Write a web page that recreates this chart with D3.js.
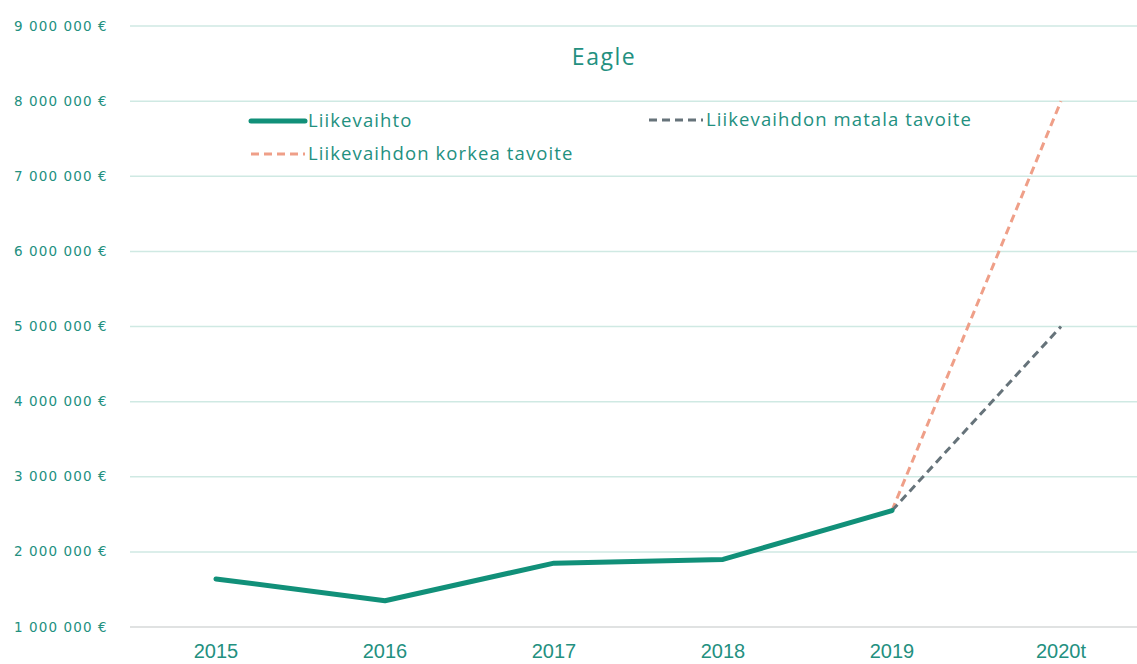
<!DOCTYPE html>
<html>
<head>
<meta charset="utf-8">
<script src="https://cdn.jsdelivr.net/npm/d3@7"></script>
<style>
  body { margin: 0; background: #fff; }
  svg { font-family: "Open Sans", "Noto Sans", sans-serif; }
</style>
</head>
<body>
<div id="chart"></div>
<script>
const YEARS = ["2015", "2016", "2017", "2018", "2019", "2020t"];
const REVENUE = [1640000, 1350000, 1850000, 1900000, 2550000];
const HIGH_TARGET = [["2019", 2550000], ["2020t", 8000000]];
const LOW_TARGET = [["2019", 2550000], ["2020t", 5000000]];
const Y_TICKS = [1000000, 2000000, 3000000, 4000000, 5000000, 6000000, 7000000, 8000000, 9000000];

const WIDTH = 1137;
const HEIGHT = 664;
const MARGINS = { left: 130, right: 0, top: 26, bottom: 37 };

const TEAL = "#119079";
const TEXT = "#23907f";

const svg = d3.select("#chart")
  .append("svg")
  .attr("width", WIDTH)
  .attr("height", HEIGHT);

const X_SCALE = d3.scalePoint()
  .domain(YEARS)
  .range([216, 1061]);

const Y_SCALE = d3.scaleLinear()
  .domain([1000000, 9000000])
  .range([HEIGHT - MARGINS.bottom, MARGINS.top]);

const fmt = (v) => d3.format(",")(v).replace(/,/g, " ") + " €";

// gridlines
svg.append("g")
  .selectAll("line")
  .data(Y_TICKS)
  .enter()
  .append("line")
  .attr("x1", MARGINS.left)
  .attr("x2", WIDTH)
  .attr("y1", (d) => Y_SCALE(d))
  .attr("y2", (d) => Y_SCALE(d))
  .attr("stroke", (d) => d === 1000000 ? "#d6d9d9" : "#cfe9e3")
  .attr("stroke-width", 1.5);

// y labels
svg.append("g")
  .selectAll("text")
  .data(Y_TICKS)
  .enter()
  .append("text")
  .attr("x", 14)
  .attr("y", (d) => Y_SCALE(d) + 4.5)
  .attr("font-family", "DejaVu Sans, sans-serif")
  .attr("font-size", "13.5px")
  .attr("letter-spacing", "1.1px")
  .attr("fill", TEXT)
  .text(fmt);

// x labels
svg.append("g")
  .selectAll("text")
  .data(YEARS)
  .enter()
  .append("text")
  .attr("x", (d) => X_SCALE(d))
  .attr("y", 658)
  .attr("text-anchor", "middle")
  .attr("font-family", "Liberation Sans, Arial, sans-serif")
  .attr("font-size", "20px")
  .attr("fill", TEXT)
  .text((d) => d);

// title
svg.append("text")
  .attr("x", 604)
  .attr("y", 65)
  .attr("text-anchor", "middle")
  .attr("font-size", "23px")
  .attr("letter-spacing", "1.5px")
  .attr("fill", TEXT)
  .text("Eagle");

const line = d3.line()
  .x((d) => X_SCALE(d[0]))
  .y((d) => Y_SCALE(d[1]));

svg.append("path")
  .datum(HIGH_TARGET)
  .attr("d", line)
  .attr("fill", "none")
  .attr("stroke", "#ef9f88")
  .attr("stroke-width", 3)
  .attr("stroke-dasharray", "8,5");

svg.append("path")
  .datum(LOW_TARGET)
  .attr("d", line)
  .attr("fill", "none")
  .attr("stroke", "#66737a")
  .attr("stroke-width", 3)
  .attr("stroke-dasharray", "8,5");

svg.append("path")
  .datum(REVENUE.map((v, i) => [YEARS[i], v]))
  .attr("d", line)
  .attr("fill", "none")
  .attr("stroke", TEAL)
  .attr("stroke-width", 5)
  .attr("stroke-linejoin", "round")
  .attr("stroke-linecap", "round");

// legend
const legend = [
  { label: "Liikevaihto", x: 251, y: 121, color: TEAL, width: 5, dash: null },
  { label: "Liikevaihdon korkea tavoite", x: 251, y: 154, color: "#ef9f88", width: 3, dash: "8,5" },
  { label: "Liikevaihdon matala tavoite", x: 649, y: 120, color: "#66737a", width: 3, dash: "8,5" },
];

const lg = svg.append("g")
  .selectAll("g")
  .data(legend)
  .enter()
  .append("g");

lg.append("line")
  .attr("x1", (d) => d.x)
  .attr("x2", (d) => d.x + 54)
  .attr("y1", (d) => d.y)
  .attr("y2", (d) => d.y)
  .attr("stroke", (d) => d.color)
  .attr("stroke-width", (d) => d.width)
  .attr("stroke-linecap", (d) => d.dash ? "butt" : "round")
  .attr("stroke-dasharray", (d) => d.dash);

lg.append("text")
  .attr("x", (d) => d.x + 57)
  .attr("y", (d) => d.y + 6)
  .attr("font-size", "18.5px")
  .attr("letter-spacing", "1.1px")
  .attr("fill", TEXT)
  .text((d) => d.label);
</script>
</body>
</html>
